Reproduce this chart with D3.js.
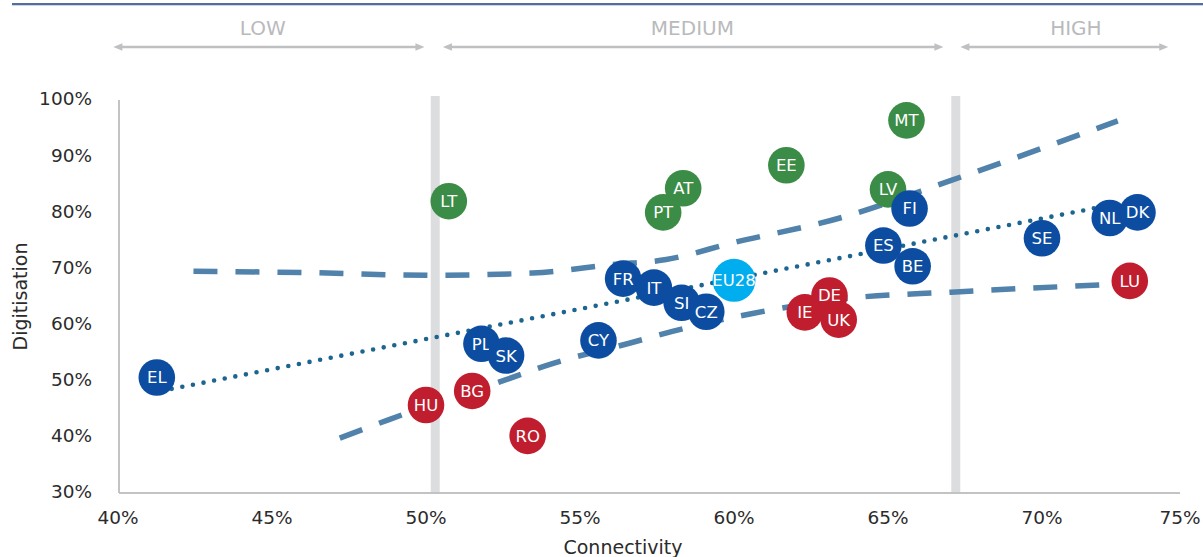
<!DOCTYPE html>
<html>
<head>
<meta charset="utf-8">
<script src="https://cdn.jsdelivr.net/npm/d3@7"></script>
<style>
  html, body { margin: 0; padding: 0; background: #fff; }
  svg { display: block; }
  text { font-family: "DejaVu Sans", sans-serif; }
</style>
</head>
<body>
<svg id="chart" width="1203" height="557"></svg>
<script>
// ---- data ----
const countries = ["EL","LT","HU","BG","RO","PL","SK","CY","FR","IT","SI","CZ","AT","PT","EE","IE","DE","UK","MT","LV","FI","ES","BE","SE","NL","DK","LU","EU28"];
const connectivity = [41.26,50.74,50.0,51.5,53.3,51.8,52.6,55.6,56.4,57.4,58.3,59.1,58.35,57.7,61.7,62.3,63.1,63.4,65.6,65.0,65.7,64.85,65.8,70.0,72.2,73.1,72.85,60.0];
const digitisation = [50.4,81.8,45.5,48.0,40.0,56.4,54.3,57.0,68.0,66.4,63.7,62.1,84.1,79.8,88.2,62.0,65.0,60.7,96.2,83.9,80.5,73.9,70.2,75.2,78.8,79.8,67.6,67.7];
const groups = ["blue","green","red","red","red","blue","blue","blue","blue","blue","blue","blue","green","green","green","red","red","red","green","green","blue","blue","blue","blue","blue","blue","red","eu"];

const xTicks = [40,45,50,55,60,65,70,75];
const yTicks = [30,40,50,60,70,80,90,100];

// dotted linear trend: endpoints [connectivity, digitisation]
const trendX = [41.4, 72.5];
const trendY = [48.0, 81.4];
// dashed band curves
const upperX = [42.45,46.0,50.13,53.46,56.05,57.8,59.9,63.5,67.05,72.46];
const upperY = [69.3,69.1,68.6,69.0,70.5,71.4,74.3,78.9,85.5,96.1];
const lowerX = [47.2,48.8,52.6,54.0,56.6,58.0,60.6,63.7,67.05,72.4];
const lowerY = [39.6,42.9,50.0,52.7,56.5,58.6,61.8,64.5,65.6,67.0];

// zone separators and zone arrows
const separators = [50.3, 67.2];
const zoneLabels = ["LOW","MEDIUM","HIGH"];
const zoneFrom = [39.85, 50.55, 67.35];
const zoneTo = [49.95, 66.8, 74.1];
const zoneLabelAt = [44.7, 58.65, 71.1];

// ---- styles ----
const colors = { blue: "#0c4da2", green: "#3b8c46", red: "#c01d2e", eu: "#00adef" };

const svg = d3.select("#chart");
const x = d3.scaleLinear().domain([40, 75]).range([118, 1196]);
const y = d3.scaleLinear().domain([30, 100]).range([492, 99]);
const plotRight = 1180, plotBottom = 493, plotLeft = 119, plotTop = 100;

// top rule
svg.append("line").attr("x1", 12).attr("x2", 1203).attr("y1", 4).attr("y2", 4)
  .attr("stroke", "#1d3c78").attr("stroke-width", 1.6);
svg.append("line").attr("x1", 12).attr("x2", 1203).attr("y1", 5.5).attr("y2", 5.5)
  .attr("stroke", "#c9d6e8").attr("stroke-width", 1);

// separator bands
svg.selectAll("rect.sep").data(separators).join("rect")
  .attr("class", "sep")
  .attr("x", d => x(d) - 4.5).attr("width", 9)
  .attr("y", 96).attr("height", plotBottom - 96)
  .attr("fill", "#dcdddf");

// axes lines
svg.append("line").attr("x1", plotLeft).attr("x2", plotLeft).attr("y1", plotTop).attr("y2", plotBottom)
  .attr("stroke", "#c3c3c3").attr("stroke-width", 2);
svg.append("line").attr("x1", plotLeft).attr("x2", plotRight).attr("y1", plotBottom).attr("y2", plotBottom)
  .attr("stroke", "#c3c3c3").attr("stroke-width", 2);

// tick labels
const yAxis = svg.append("g").attr("transform", `translate(${plotLeft},0)`)
  .call(d3.axisLeft(y).tickValues(yTicks).tickSize(0).tickPadding(27).tickFormat(d => d + "%"));
yAxis.select(".domain").remove();
yAxis.selectAll("text").attr("font-family", "DejaVu Sans").attr("font-size", 18.5).attr("fill", "#2b2b2b");

const xAxis = svg.append("g").attr("transform", `translate(0,${plotBottom})`)
  .call(d3.axisBottom(x).tickValues(xTicks).tickSize(0).tickPadding(18).tickFormat(d => d + "%"));
xAxis.select(".domain").remove();
xAxis.selectAll(".tick").attr("transform", d => `translate(${Math.min(x(d), 1180)},0)`);
xAxis.selectAll("text").attr("font-family", "DejaVu Sans").attr("font-size", 18.5).attr("fill", "#2b2b2b");

// axis titles
svg.append("text").attr("x", 623).attr("y", 554).attr("text-anchor", "middle")
  .attr("font-size", 19).attr("fill", "#2b2b2b").text("Connectivity");
svg.append("text").attr("transform", `translate(27,${(plotTop + plotBottom) / 2}) rotate(-90)`)
  .attr("text-anchor", "middle").attr("font-size", 19).attr("fill", "#2b2b2b").text("Digitisation");

// zone arrows
const arrowColor = "#bfc0c2";
const ay = 47;
zoneLabels.forEach((lab, i) => {
  const x1 = x(zoneFrom[i]), x2 = x(zoneTo[i]);
  svg.append("line").attr("x1", x1 + 6).attr("x2", x2 - 6).attr("y1", ay).attr("y2", ay)
    .attr("stroke", arrowColor).attr("stroke-width", 2.6);
  svg.append("path").attr("d", `M${x1},${ay} L${x1 + 9},${ay - 3.8} L${x1 + 9},${ay + 3.8} Z`).attr("fill", arrowColor);
  svg.append("path").attr("d", `M${x2},${ay} L${x2 - 9},${ay - 3.8} L${x2 - 9},${ay + 3.8} Z`).attr("fill", arrowColor);
  svg.append("text").attr("x", x(zoneLabelAt[i])).attr("y", 35).attr("text-anchor", "middle")
    .attr("font-size", 20).attr("fill", "#b9babc").text(lab);
});

// dashed band curves
const line = d3.line().x(d => x(d[0])).y(d => y(d[1])).curve(d3.curveMonotoneX);
[[upperX, upperY], [lowerX, lowerY]].forEach(([xs, ys]) => {
  svg.append("path").datum(xs.map((v, i) => [v, ys[i]]))
    .attr("d", line).attr("fill", "none")
    .attr("stroke", "#5082ab").attr("stroke-width", 5.5)
    .attr("stroke-dasharray", "24 18");
});

// dotted trend
svg.append("path").datum(trendX.map((v, i) => [v, trendY[i]]))
  .attr("d", d3.line().x(d => x(d[0])).y(d => y(d[1])))
  .attr("fill", "none").attr("stroke", "#1d6591").attr("stroke-width", 4.6)
  .attr("stroke-linecap", "round").attr("stroke-dasharray", "0 10.8");

// points
const pts = countries.map((c, i) => ({ c, cx: connectivity[i], dy: digitisation[i], g: groups[i] }));
const node = svg.selectAll("g.pt").data(pts).join("g").attr("class", "pt")
  .attr("transform", d => `translate(${x(d.cx)},${y(d.dy)})`);
node.append("circle").attr("r", d => d.g === "eu" ? 21.5 : 18.3).attr("fill", d => colors[d.g]);
node.append("text").attr("text-anchor", "middle").attr("dy", "0.36em")
  .attr("font-size", 16.5).attr("fill", "#fff").text(d => d.c);
</script>
</body>
</html>
